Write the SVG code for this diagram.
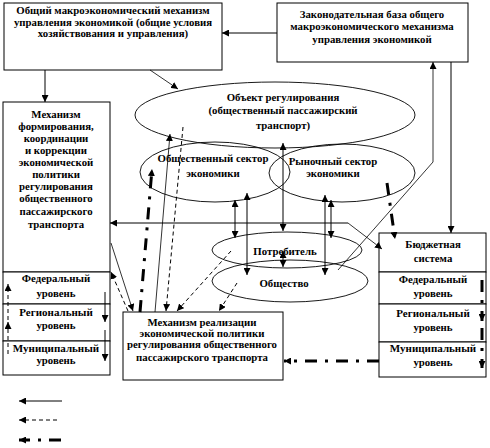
<svg xmlns="http://www.w3.org/2000/svg" width="490" height="448" viewBox="0 0 490 448">
<style>
text{font-family:"Liberation Serif","Times New Roman",serif;font-weight:bold;font-size:10.8px;text-anchor:middle;fill:#000}
.big{font-size:11px}
rect{fill:#fff;stroke:#000;stroke-width:1}
.ell{fill:none;stroke:#000;stroke-width:0.9}
.c path,.c line{fill:none;stroke:#000;stroke-width:1}
.c .d{stroke-dasharray:4 3}
.c .dd{stroke-width:3;stroke-dasharray:12 8 3 8}
.c .t{stroke-width:0.8}
</style>
<defs>
<marker id="ah" viewBox="0 0 10 10" refX="10" refY="5" markerWidth="7" markerHeight="7" markerUnits="userSpaceOnUse" orient="auto-start-reverse"><path d="M0,0 L10,5 L0,10 z" fill="#000"/></marker>
</defs>

<g id="box1">
<rect x="4" y="3" width="218" height="67"/>
<text x="113" y="14">Общий макроэкономический механизм</text>
<text x="113" y="26">управления экономикой (общие условия</text>
<text x="113" y="37">хозяйствования и управления)</text>
</g>

<g id="box2">
<rect x="277" y="3" width="191" height="59"/>
<text x="372" y="18">Законодательная база общего</text>
<text x="372" y="30">макроэкономического механизма</text>
<text x="372" y="43">управления экономикой</text>
</g>

<g id="left">
<rect x="3" y="102" width="107" height="170"/>
<text x="56" y="118">Механизм</text>
<text x="56" y="130">формирования,</text>
<text x="56" y="142">координации</text>
<text x="56" y="154">и коррекции</text>
<text x="56" y="166">экономической</text>
<text x="56" y="178">политики</text>
<text x="56" y="190">регулирования</text>
<text x="56" y="202">общественного</text>
<text x="56" y="215">пассажирского</text>
<text x="56" y="228">транспорта</text>
</g>
<g id="left-fed">
<rect x="3" y="272" width="107" height="32"/>
<text x="56" y="282">Федеральный</text>
<text x="56" y="297">уровень</text>
</g>
<g id="left-reg">
<rect x="3" y="304" width="107" height="37"/>
<text class="big" x="56" y="316">Региональный</text>
<text x="56" y="329">уровень</text>
</g>
<g id="left-mun">
<rect x="3" y="341" width="107" height="34"/>
<text class="big" x="56" y="352">Муниципальный</text>
<text x="56" y="364">уровень</text>
</g>

<g id="object">
<ellipse class="ell" cx="275" cy="115" rx="140" ry="33"/>
<text x="283" y="101">Объект регулирования</text>
<text x="283" y="114">(общественный пассажирский</text>
<text x="283" y="129">транспорт)</text>
</g>

<g id="public">
<ellipse class="ell" cx="215" cy="172" rx="75" ry="30"/>
<text x="213" y="162">Общественный сектор</text>
<text x="213" y="177">экономики</text>
</g>

<g id="market">
<ellipse class="ell" cx="342" cy="173" rx="73" ry="29"/>
<text x="333" y="165">Рыночный сектор</text>
<text x="333" y="177">экономики</text>
</g>

<g id="consumer">
<ellipse class="ell" cx="287" cy="250" rx="75" ry="18"/>
<text x="285" y="255">Потребитель</text>
</g>

<g id="society">
<ellipse class="ell" cx="290" cy="281" rx="78" ry="21"/>
<text x="284" y="287">Общество</text>
</g>

<g id="impl">
<rect x="123" y="312" width="160" height="68"/>
<text x="202" y="326">Механизм реализации</text>
<text x="202" y="337">экономической политики</text>
<text x="202" y="348">регулирования общественного</text>
<text x="202" y="361">пассажирского транспорта</text>
</g>

<g id="budget">
<rect x="379" y="233" width="107" height="39"/>
<text x="433" y="248">Бюджетная</text>
<text x="433" y="262">система</text>
</g>
<g id="budget-fed">
<rect x="379" y="272" width="107" height="32"/>
<text x="433" y="283">Федеральный</text>
<text x="433" y="297">уровень</text>
</g>
<g id="budget-reg">
<rect x="379" y="304" width="107" height="38"/>
<text class="big" x="433" y="317">Региональный</text>
<text x="433" y="331">уровень</text>
</g>
<g id="budget-mun">
<rect x="379" y="342" width="107" height="35"/>
<text class="big" x="433" y="352">Муниципальный</text>
<text x="433" y="366">уровень</text>
</g>

<g id="connectors" class="c">
<path d="M277,33 H222" marker-end="url(#ah)"/>
<path d="M45,70 V102" marker-end="url(#ah)"/>
<path class="t" d="M150,70 L178,89" marker-end="url(#ah)"/>
<path d="M451,62 V233" marker-end="url(#ah)"/>
<path class="t" d="M338,270 L433,162 V62" marker-end="url(#ah)"/>
<path d="M348,223 H110" marker-end="url(#ah)"/>
<path class="t" d="M348,223 L382,249" marker-end="url(#ah)"/>
<path d="M235,200 V238" marker-start="url(#ah)" marker-end="url(#ah)"/>
<path d="M247,193 V275" marker-start="url(#ah)" marker-end="url(#ah)"/>
<path d="M283,143 V231" marker-start="url(#ah)" marker-end="url(#ah)"/>
<path d="M283,251 V267" marker-start="url(#ah)" marker-end="url(#ah)"/>
<path d="M325,195 V275" marker-start="url(#ah)" marker-end="url(#ah)"/>
<path d="M331,200 V238" marker-start="url(#ah)" marker-end="url(#ah)"/>
<path class="t" d="M111,243 L133,311" marker-end="url(#ah)"/>
<path class="d" d="M128,311 L111,272" marker-end="url(#ah)"/>
<path class="dd" d="M140,312 L152,169" marker-end="url(#ah)"/>
<path class="t" d="M155,312 L170,134" marker-end="url(#ah)"/>
<path class="d" d="M183,127 L166,311" marker-end="url(#ah)"/>
<path class="d" d="M231,251 L177,311" marker-end="url(#ah)"/>
<path class="d" d="M237,283 L219,311" marker-end="url(#ah)"/>
<path class="dd" d="M387,183 L395,239" marker-end="url(#ah)"/>
<path class="dd" d="M379,361 H284" marker-end="url(#ah)"/>
<path class="dd" d="M482,280 V321" marker-end="url(#ah)"/>
<path class="dd" d="M482,328 V368" marker-end="url(#ah)"/>
<path class="d" d="M8,320 V284" marker-end="url(#ah)"/>
<path class="d" d="M8,354 V322" marker-end="url(#ah)"/>
<path d="M105,292 V322" marker-end="url(#ah)"/>
<path d="M105,330 V361" marker-end="url(#ah)"/>
<path d="M62,401 H19" marker-end="url(#ah)"/>
<path class="d" d="M57,420 H19" marker-end="url(#ah)"/>
<path class="dd" d="M61,440 H19" marker-end="url(#ah)"/>
</g>
</svg>
